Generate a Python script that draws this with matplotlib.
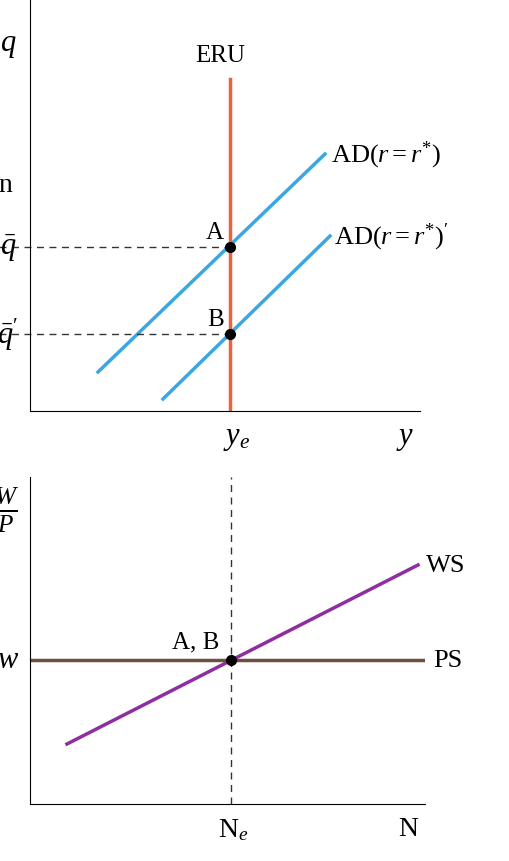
import matplotlib.pyplot as plt

plt.rcParams['font.family'] = ['Liberation Serif', 'DejaVu Serif']
plt.rcParams['mathtext.fontset'] = 'custom'
plt.rcParams['mathtext.rm'] = 'Liberation Serif'
plt.rcParams['mathtext.it'] = 'Liberation Serif:italic'

W, H = 510, 862

# top panel (pixel-like units, origin at axis corner)
eru_x = 200
eru_y = [0, 332]
ad1_x = [68, 295]
ad1_y = [39, 257]
ad2_x = [133, 300]
ad2_y = [12, 175]
pt_a = (200, 164)
pt_b = (200, 77)

# bottom panel
ne_x = 201
ps_y = 144
ws_x = [37, 388]
ws_y = [60, 239]

fig = plt.figure(figsize=(W / 100, H / 100), dpi=100)

ax1 = fig.add_axes([30 / W, (H - 412) / H, 390 / W, 412 / H])
ax1.set_xlim(0, 390)
ax1.set_ylim(0, 412)
ax1.plot([eru_x, eru_x], eru_y, color='#e8643c', lw=2.5)
ax1.plot(ad1_x, ad1_y, color='#3ba7e2', lw=2.5)
ax1.plot(ad2_x, ad2_y, color='#3ba7e2', lw=2.5)
for p in (pt_a, pt_b):
    ax1.plot([-40, p[0]], [p[1], p[1]], ls=(0, (5, 4)), color='#333333', lw=1, clip_on=False)
    ax1.plot(*p, 'o', color='black', ms=7, zorder=5)
ax1.text(eru_x - 10, 345, 'ERU', fontsize=18, ha='center', va='bottom')
ax1.text(pt_a[0] - 6, pt_a[1] + 4, 'A', fontsize=18, ha='right', va='bottom')
ax1.text(pt_b[0] - 6, pt_b[1] + 4, 'B', fontsize=18, ha='right', va='bottom')
ax1.text(ad1_x[1] + 6, ad1_y[1], r'AD($r=r^{*}$)', fontsize=19, va='center')
ax1.text(ad2_x[1] + 4, ad2_y[1], r"AD($r=r^{*}$)$'$", fontsize=19, va='center')
ax1.text(eru_x + 7, -12, r'$y_e$', fontsize=22, ha='center', va='top')
ax1.text(375, -12, r'$y$', fontsize=22, ha='center', va='top')
ax1.text(-22, 367, r'$q$', fontsize=22, ha='center', va='center')
ax1.text(-25, 227, 'n', fontsize=20, ha='center', va='center')
ax1.text(-22, pt_a[1], r'$\bar{q}$', fontsize=22, ha='center', va='center')
ax1.text(-22, pt_b[1], r"$\bar{q}'$", fontsize=22, ha='center', va='center')

ax2 = fig.add_axes([30 / W, (H - 805) / H, 395 / W, 327 / H])
ax2.set_xlim(0, 395)
ax2.set_ylim(0, 327)
ax2.plot([ne_x, ne_x], [0, 327], ls=(0, (5, 4)), color='#333333', lw=1)
ax2.plot([0, 395], [ps_y, ps_y], color='#6e4e3c', lw=2.5)
ax2.plot(ws_x, ws_y, color='#8e2ea0', lw=2.5)
ax2.plot(ne_x, ps_y, 'o', color='black', ms=7, zorder=5)
ax2.text(ne_x - 12, ps_y + 8, 'A, B', fontsize=18, ha='right', va='bottom')
ax2.text(ws_x[1] + 8, ws_y[1], 'WS', fontsize=19, va='center')
ax2.text(403, ps_y, 'PS', fontsize=19, va='center')
ax2.text(ne_x + 2, -12, r'N$_e$', fontsize=20, ha='center', va='top')
ax2.text(378, -12, 'N', fontsize=20, ha='center', va='top')
ax2.text(-22, ps_y, r'$w$', fontsize=22, ha='center', va='center')
ax2.text(-24, 295, r'$\frac{W}{P}$', fontsize=26, ha='center', va='center')

for ax in (ax1, ax2):
    ax.spines['top'].set_visible(False)
    ax.spines['right'].set_visible(False)
    ax.set_xticks([])
    ax.set_yticks([])

fig.savefig('out.png', dpi=100)
